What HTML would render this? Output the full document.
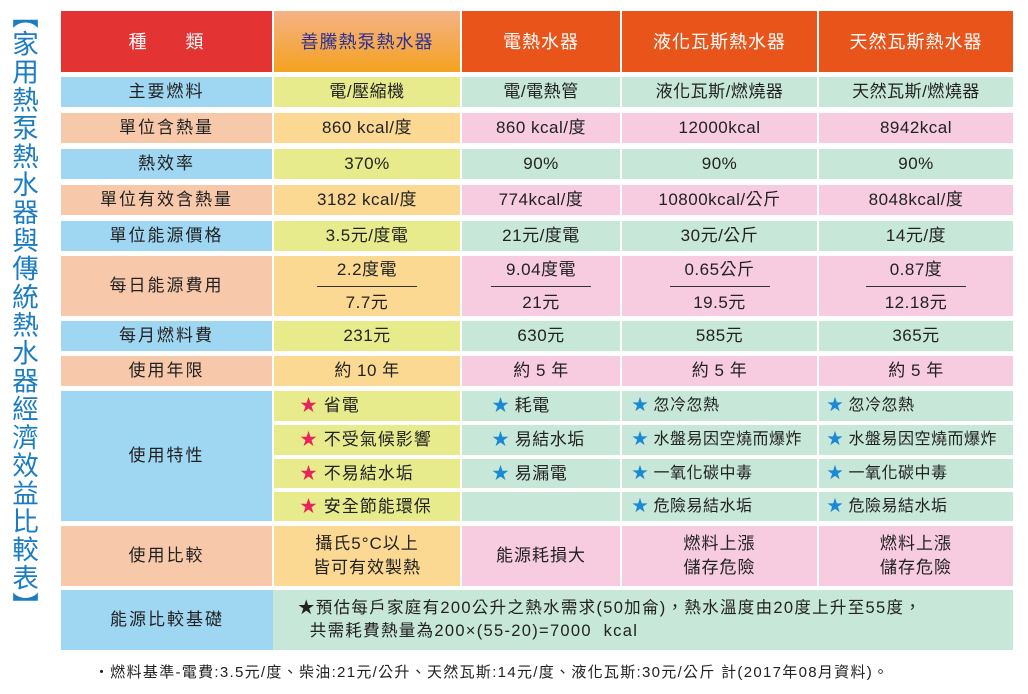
<!DOCTYPE html>
<html><head><meta charset="utf-8"><style>
body{margin:0;width:1028px;height:694px;background:#fff;position:relative;overflow:hidden;font-family:"Liberation Sans","Noto Sans CJK TC",sans-serif;color:#222}
.c{position:absolute;display:flex;align-items:center;justify-content:center;font-size:17px;text-align:center;line-height:24px;box-sizing:border-box;letter-spacing:0.5px}
.l{justify-content:flex-start}
.h{color:#fff;font-size:18px;letter-spacing:1px}
.b,.p{letter-spacing:2px}
.b{background:#9fd6f2}.p{background:#f7c9aa}.y{background:#e7eb8c}.o{background:#fcd992}.g{background:#c7e7d8}.k{background:#f7cbe0}
.fr{display:flex;flex-direction:column;align-items:center}
.fr span:first-child{border-bottom:1.5px solid #333;padding:0 0 4px;width:100px}
.fr span:last-child{padding-top:4px}
.rs{color:#e8245e}.bs{color:#1a8ad4}
#t{position:absolute;left:8px;top:2px;writing-mode:vertical-rl;font-size:26.5px;line-height:30px;color:#1b7cc2;font-family:"Liberation Sans","Noto Sans CJK TC",sans-serif;letter-spacing:1.6px}
</style></head><body>
<div id="t">【家用熱泵熱水器與傳統熱水器經濟效益比較表】</div>

<div class="c h" style="left:61px;top:11px;width:211px;height:61px;background:#e33333">種　　類</div>
<div class="c h" style="left:274px;top:11px;width:186px;height:61px;background:linear-gradient(#f5b287,#f4a21f);color:#2e3192">善騰熱泵熱水器</div>
<div class="c h" style="left:462px;top:11px;width:158px;height:61px;background:#e8541a">電熱水器</div>
<div class="c h" style="left:622px;top:11px;width:195px;height:61px;background:#e8541a">液化瓦斯熱水器</div>
<div class="c h" style="left:819px;top:11px;width:194px;height:61px;background:#e8541a">天然瓦斯熱水器</div>

<div class="c b" style="left:61px;top:77px;width:211px;height:30px">主要燃料</div>
<div class="c y" style="left:274px;top:77px;width:186px;height:30px">電/壓縮機</div>
<div class="c g" style="left:462px;top:77px;width:158px;height:30px">電/電熱管</div>
<div class="c g" style="left:622px;top:77px;width:195px;height:30px">液化瓦斯/燃燒器</div>
<div class="c g" style="left:819px;top:77px;width:194px;height:30px">天然瓦斯/燃燒器</div>

<div class="c p" style="left:61px;top:113px;width:211px;height:30px">單位含熱量</div>
<div class="c o" style="left:274px;top:113px;width:186px;height:30px">860 kcal/度</div>
<div class="c k" style="left:462px;top:113px;width:158px;height:30px">860 kcal/度</div>
<div class="c k" style="left:622px;top:113px;width:195px;height:30px">12000kcal</div>
<div class="c k" style="left:819px;top:113px;width:194px;height:30px">8942kcal</div>

<div class="c b" style="left:61px;top:149px;width:211px;height:30px">熱效率</div>
<div class="c y" style="left:274px;top:149px;width:186px;height:30px">370%</div>
<div class="c g" style="left:462px;top:149px;width:158px;height:30px">90%</div>
<div class="c g" style="left:622px;top:149px;width:195px;height:30px">90%</div>
<div class="c g" style="left:819px;top:149px;width:194px;height:30px">90%</div>

<div class="c p" style="left:61px;top:185px;width:211px;height:30px">單位有效含熱量</div>
<div class="c o" style="left:274px;top:185px;width:186px;height:30px">3182 kcal/度</div>
<div class="c k" style="left:462px;top:185px;width:158px;height:30px">774kcal/度</div>
<div class="c k" style="left:622px;top:185px;width:195px;height:30px">10800kcal/公斤</div>
<div class="c k" style="left:819px;top:185px;width:194px;height:30px">8048kcal/度</div>

<div class="c b" style="left:61px;top:221px;width:211px;height:30px">單位能源價格</div>
<div class="c y" style="left:274px;top:221px;width:186px;height:30px">3.5元/度電</div>
<div class="c g" style="left:462px;top:221px;width:158px;height:30px">21元/度電</div>
<div class="c g" style="left:622px;top:221px;width:195px;height:30px">30元/公斤</div>
<div class="c g" style="left:819px;top:221px;width:194px;height:30px">14元/度</div>

<div class="c p" style="left:61px;top:256px;width:211px;height:60px">每日能源費用</div>
<div class="c o" style="left:274px;top:256px;width:186px;height:60px"><div class="fr"><span>2.2度電</span><span>7.7元</span></div></div>
<div class="c k" style="left:462px;top:256px;width:158px;height:60px"><div class="fr"><span>9.04度電</span><span>21元</span></div></div>
<div class="c k" style="left:622px;top:256px;width:195px;height:60px"><div class="fr"><span>0.65公斤</span><span>19.5元</span></div></div>
<div class="c k" style="left:819px;top:256px;width:194px;height:60px"><div class="fr"><span>0.87度</span><span>12.18元</span></div></div>

<div class="c b" style="left:61px;top:321px;width:211px;height:30px">每月燃料費</div>
<div class="c y" style="left:274px;top:321px;width:186px;height:30px">231元</div>
<div class="c g" style="left:462px;top:321px;width:158px;height:30px">630元</div>
<div class="c g" style="left:622px;top:321px;width:195px;height:30px">585元</div>
<div class="c g" style="left:819px;top:321px;width:194px;height:30px">365元</div>

<div class="c p" style="left:61px;top:356px;width:211px;height:30px">使用年限</div>
<div class="c o" style="left:274px;top:356px;width:186px;height:30px">約 10 年</div>
<div class="c k" style="left:462px;top:356px;width:158px;height:30px">約 5 年</div>
<div class="c k" style="left:622px;top:356px;width:195px;height:30px">約 5 年</div>
<div class="c k" style="left:819px;top:356px;width:194px;height:30px">約 5 年</div>

<div class="c b" style="left:61px;top:391px;width:211px;height:130px">使用特性</div>
<div class="c y l" style="left:274px;top:391px;width:186px;height:30px;padding-left:26px;letter-spacing:1px"><span class="rs">★</span>&nbsp;省電</div>
<div class="c y l" style="left:274px;top:425px;width:186px;height:30px;padding-left:26px;letter-spacing:1px"><span class="rs">★</span>&nbsp;不受氣候影響</div>
<div class="c y l" style="left:274px;top:459px;width:186px;height:29px;padding-left:26px;letter-spacing:1px"><span class="rs">★</span>&nbsp;不易結水垢</div>
<div class="c y l" style="left:274px;top:492px;width:186px;height:29px;padding-left:26px;letter-spacing:1px"><span class="rs">★</span>&nbsp;安全節能環保</div>

<div class="c g l" style="left:462px;top:391px;width:158px;height:30px;padding-left:30px"><span class="bs">★</span>&nbsp;耗電</div>
<div class="c g l" style="left:462px;top:425px;width:158px;height:30px;padding-left:30px"><span class="bs">★</span>&nbsp;易結水垢</div>
<div class="c g l" style="left:462px;top:459px;width:158px;height:29px;padding-left:30px"><span class="bs">★</span>&nbsp;易漏電</div>
<div class="c g l" style="left:462px;top:492px;width:158px;height:29px"></div>

<div class="c g l" style="left:622px;top:391px;width:195px;height:30px;padding-left:10px;font-size:16px"><span class="bs">★</span>&nbsp;忽冷忽熱</div>
<div class="c g l" style="left:622px;top:425px;width:195px;height:30px;padding-left:10px;font-size:16px"><span class="bs">★</span>&nbsp;水盤易因空燒而爆炸</div>
<div class="c g l" style="left:622px;top:459px;width:195px;height:29px;padding-left:10px;font-size:16px"><span class="bs">★</span>&nbsp;一氧化碳中毒</div>
<div class="c g l" style="left:622px;top:492px;width:195px;height:29px;padding-left:10px;font-size:16px"><span class="bs">★</span>&nbsp;危險易結水垢</div>

<div class="c g l" style="left:819px;top:391px;width:194px;height:30px;padding-left:8px;font-size:16px"><span class="bs">★</span>&nbsp;忽冷忽熱</div>
<div class="c g l" style="left:819px;top:425px;width:194px;height:30px;padding-left:8px;font-size:16px"><span class="bs">★</span>&nbsp;水盤易因空燒而爆炸</div>
<div class="c g l" style="left:819px;top:459px;width:194px;height:29px;padding-left:8px;font-size:16px"><span class="bs">★</span>&nbsp;一氧化碳中毒</div>
<div class="c g l" style="left:819px;top:492px;width:194px;height:29px;padding-left:8px;font-size:16px"><span class="bs">★</span>&nbsp;危險易結水垢</div>

<div class="c p" style="left:61px;top:526px;width:211px;height:60px">使用比較</div>
<div class="c o" style="left:274px;top:526px;width:186px;height:60px;letter-spacing:1px">攝氏5°C以上<br>皆可有效製熱</div>
<div class="c k" style="left:462px;top:526px;width:158px;height:60px;letter-spacing:1px">能源耗損大</div>
<div class="c k" style="left:622px;top:526px;width:195px;height:60px;letter-spacing:1px">燃料上漲<br>儲存危險</div>
<div class="c k" style="left:819px;top:526px;width:194px;height:60px;letter-spacing:1px">燃料上漲<br>儲存危險</div>

<div class="c b" style="left:61px;top:590px;width:212px;height:60px">能源比較基礎</div>
<div class="c g l" style="left:273px;top:590px;width:740px;height:60px;padding-left:25px;text-align:left;font-size:16.5px;line-height:23px;letter-spacing:1.3px">★預估每戶家庭有200公升之熱水需求(50加侖)，熱水溫度由20度上升至55度，<br>&nbsp;&nbsp;共需耗費熱量為200×(55-20)=7000&nbsp;&nbsp;kcal</div>

<div style="position:absolute;left:94px;top:661px;font-size:15px;letter-spacing:1.3px;color:#222;white-space:nowrap">・燃料基準-電費:3.5元/度、柴油:21元/公升、天然瓦斯:14元/度、液化瓦斯:30元/公斤 計(2017年08月資料)。</div>
</body></html>
